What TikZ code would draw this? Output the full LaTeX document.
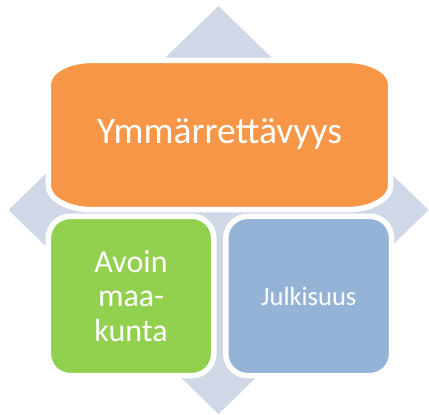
\documentclass[tikz,border=0pt]{standalone}
\usepackage{fontspec}
\setmainfont{Carlito}
\definecolor{bgdiamond}{HTML}{D0D8E8}
\definecolor{accorange}{HTML}{F79646}
\definecolor{accgreen}{HTML}{92D050}
\definecolor{accblue}{HTML}{95B3D7}
\begin{document}
\begin{tikzpicture}[x=1pt,y=1pt,
  boxstyle/.style={draw=white, line width=5.5pt},
  tilebox/.style={boxstyle, rectangle, rounded corners=22pt, inner sep=0pt, outer sep=0pt,
    minimum height=159.4pt, text=white, align=center},
  label/.style={text=white, align=center, inner sep=0pt}]
\useasboundingbox (0,0) rectangle (429,415);
% background diamond
\fill[bgdiamond] (218.5,409) -- (428.5,205) -- (218.5,1) -- (8.5,205) -- cycle;
% orange box with elliptical corners
\path[boxstyle, fill=accorange]
  (48.3,229.3) -- (48.3,330.7)
  arc[start angle=180, end angle=90, x radius=44, y radius=24] -- (346.7,354.7)
  arc[start angle=90, end angle=0, x radius=44, y radius=24] -- (390.7,229.3)
  arc[start angle=0, end angle=-90, x radius=44, y radius=24] -- (92.3,205.3)
  arc[start angle=270, end angle=180, x radius=44, y radius=24] -- cycle;
\node[label, font=\fontsize{37.5}{42}\selectfont] (top) at (219.5,281) {Ymmärrettävyys};
% lower tiles
\node[tilebox, fill=accgreen, minimum width=165.5pt, font=\fontsize{32}{34.5}\selectfont] (left) at (131.05,119) {Avoin\\maa-\\kunta};
\node[tilebox, fill=accblue, minimum width=165.9pt, font=\fontsize{26.5}{30}\selectfont] (right) at (308.75,119) {Julkisuus};
\end{tikzpicture}
\end{document}
